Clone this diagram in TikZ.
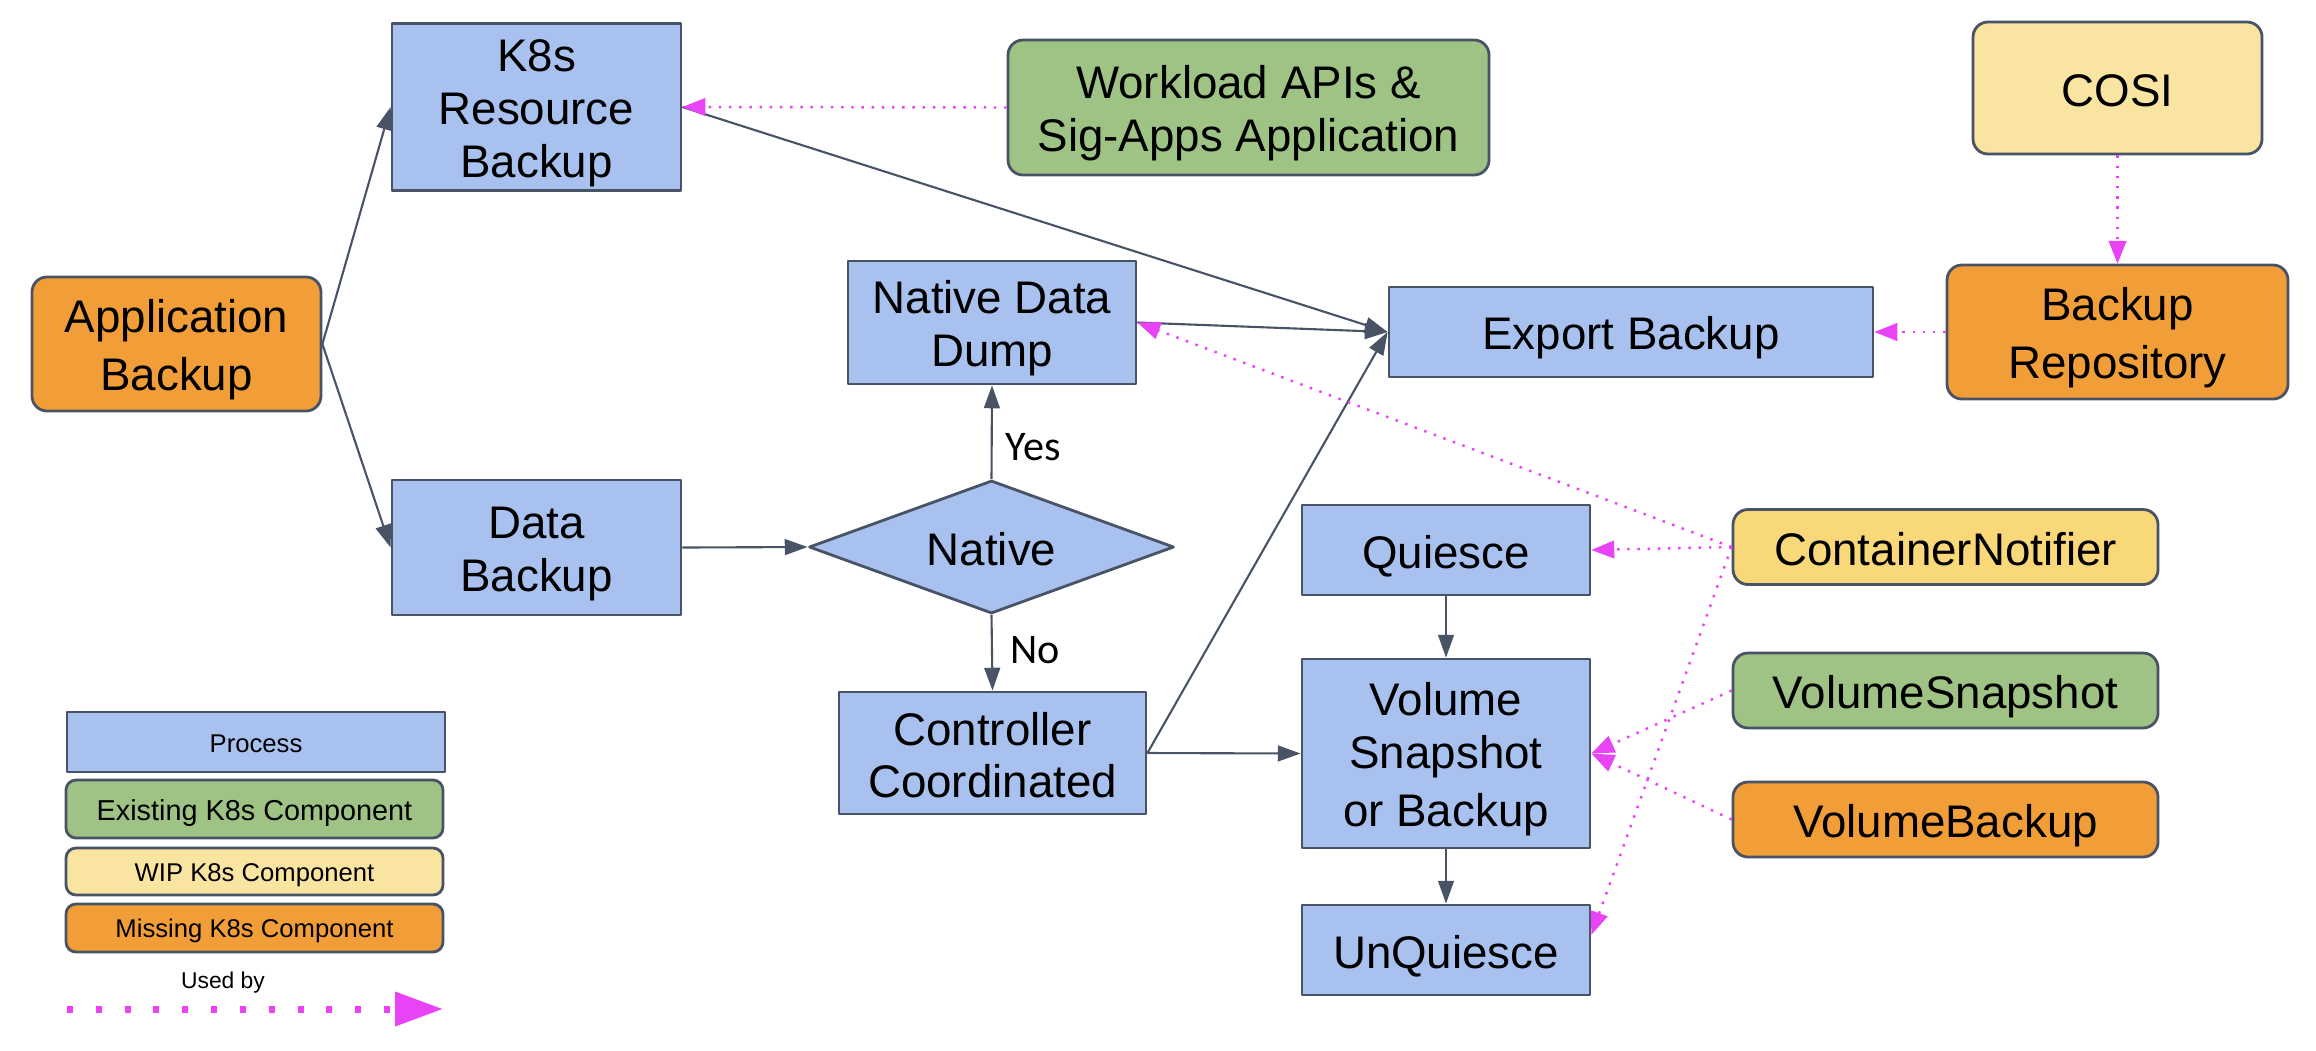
\documentclass[tikz,border=0pt]{standalone}
\usepackage{fontspec}
\setmainfont{Liberation Sans}
\newfontfamily\yesnofont{Carlito}
\usetikzlibrary{arrows.meta,shapes.geometric}
\newcommand\rowfix{\vrule width 0pt height 0.98em depth 0.17em}
\definecolor{proc_blue}{RGB}{168,193,239}
\definecolor{exist_green}{RGB}{159,195,133}
\definecolor{wip_yellow}{RGB}{249,228,161}
\definecolor{wip_gold}{RGB}{249,216,122}
\definecolor{miss_orange}{RGB}{242,158,56}
\definecolor{edge_slate}{RGB}{72,84,102}
\definecolor{used_pink}{RGB}{232,67,245}

\begin{document}
\begin{tikzpicture}[line join=round]
    \tikzstyle{box}=[draw=edge_slate, line width=0.8pt, rectangle, inner sep=1pt, align=center, text=black, font=\fontsize{13}{15}\selectfont,
      execute at begin node={\rowfix}]
    \tikzstyle{proc}=[style=box, fill=proc_blue]
    \tikzstyle{exist}=[style=box, rounded corners=0.15cm, fill=exist_green]
    \tikzstyle{wip}=[style=box, rounded corners=0.15cm, fill=wip_yellow]
    \tikzstyle{wipg}=[style=box, rounded corners=0.15cm, fill=wip_gold]
    \tikzstyle{miss}=[style=box, rounded corners=0.15cm, fill=miss_orange]
    \tikzstyle{decide}=[style=box, diamond, aspect=2.7, inner sep=0pt, fill=proc_blue]
    \tikzstyle{leg}=[rounded corners=0.1cm, font=\fontsize{7.3}{9}\selectfont]
    \tikzstyle{flow}=[draw=edge_slate, line width=0.6pt, -{Triangle[length=6.5pt,width=4.5pt]}]
    \tikzstyle{usedby}=[draw=used_pink, line width=0.7pt, dash pattern=on 0.7pt off 2.2pt, -{Triangle[length=6.5pt,width=5pt]}]
    \tikzstyle{yesno}=[font=\yesnofont\fontsize{12}{14}\selectfont, inner sep=0pt]

    \useasboundingbox (0,0) rectangle (23.16,-10.5);

    \node[miss] (app) at (1.765,-3.44) [minimum width=2.89cm, minimum height=1.34cm] {\rowfix Application\\\rowfix Backup};
    \node[proc] (k8s) at (5.365,-1.07) [minimum width=2.89cm, minimum height=1.64cm] {\rowfix K8s\\\rowfix Resource\\\rowfix Backup};
    \node[proc] (data) at (5.365,-5.475) [minimum width=2.89cm, minimum height=1.35cm] {\rowfix Data\\\rowfix Backup};
    \node[proc] (dump) at (9.92,-3.225) [minimum width=2.88cm, minimum height=1.23cm] {\rowfix Native Data\\\rowfix Dump};
    \node[decide] (native) at (9.915,-5.47) [minimum width=3.65cm, minimum height=1.33cm] {Native};
    \node[proc] (ctrl) at (9.925,-7.53) [minimum width=3.07cm, minimum height=1.22cm] {\rowfix Controller\\\rowfix Coordinated};
    \node[exist] (workload) at (12.485,-1.075) [minimum width=4.81cm, minimum height=1.35cm] {\rowfix Workload APIs \&\\\rowfix Sig-Apps Application};
    \node[wip] (cosi) at (21.175,-0.88) [minimum width=2.89cm, minimum height=1.32cm] {COSI};
    \node[miss] (repo) at (21.175,-3.32) [minimum width=3.41cm, minimum height=1.34cm] {\rowfix Backup\\\rowfix Repository};
    \node[proc] (export) at (16.31,-3.32) [minimum width=4.84cm, minimum height=0.90cm] {Export Backup};
    \node[proc] (quiesce) at (14.46,-5.50) [minimum width=2.88cm, minimum height=0.90cm] {Quiesce};
    \node[wipg] (notifier) at (19.455,-5.47) [minimum width=4.25cm, minimum height=0.75cm] {ContainerNotifier};
    \node[proc] (volume) at (14.46,-7.535) [minimum width=2.88cm, minimum height=1.89cm] {\rowfix Volume\\\rowfix Snapshot\\\rowfix or Backup};
    \node[exist] (vsnap) at (19.455,-6.905) [minimum width=4.25cm, minimum height=0.75cm] {VolumeSnapshot};
    \node[miss] (vbackup) at (19.455,-8.195) [minimum width=4.25cm, minimum height=0.75cm] {VolumeBackup};
    \node[proc] (unq) at (14.46,-9.50) [minimum width=2.88cm, minimum height=0.90cm] {UnQuiesce};
    \node[yesno] (yes) at (10.33,-4.47) {Yes};
    \node[yesno] (no) at (10.35,-6.50) {No};

    \node[proc, leg] (lproc) at (2.56,-7.42) [minimum width=3.78cm, minimum height=0.60cm, rounded corners=0pt] {Process};
    \node[exist, leg] (lexist) at (2.545,-8.09) [minimum width=3.77cm, minimum height=0.58cm, font=\fontsize{8.2}{10}\selectfont] {Existing K8s Component};
    \node[wip, leg] (lwip) at (2.545,-8.715) [minimum width=3.77cm, minimum height=0.47cm] {WIP K8s Component};
    \node[miss, leg] (lmiss) at (2.545,-9.28) [minimum width=3.77cm, minimum height=0.48cm] {Missing K8s Component};
    \node[font=\fontsize{6.5}{8}\selectfont] (lused) at (2.23,-9.83) {Used by};
    \coordinate (lstart) at (0.67,-10.09);
    \coordinate (lend) at (4.43,-10.09);

    \path
     (app.east) edge[flow] (k8s.west)
     (app.east) edge[flow] (data.west)
     (k8s.east) edge[flow] (export.west)
     (dump.east) edge[flow] (export.west)
     (ctrl.east) edge[flow] (export.west)
     (data.east) edge[flow] (native.west)
     (native.north) edge[flow] (dump.south)
     (native.south) edge[flow] (ctrl.north)
     (ctrl.east) edge[flow] (volume.west)
     (quiesce.south) edge[flow] (volume.north)
     (volume.south) edge[flow] (unq.north)
     ;
    \path
     (workload.west) edge[usedby] (k8s.east)
     (cosi.south) edge[usedby] (repo.north)
     (repo.west) edge[usedby] (export.east)
     (notifier.west) edge[usedby] (quiesce.east)
     (notifier.west) edge[usedby] (dump.east)
     (notifier.west) edge[usedby] (unq.6)
     (vsnap.west) edge[usedby] (volume.east)
     (vbackup.west) edge[usedby] (volume.east)
     (lstart) edge[usedby, line width=2pt, dash pattern=on 1.7pt off 6.5pt, -{Triangle[length=0.48cm,width=0.33cm]}] (lend)
     ;
\end{tikzpicture}
\end{document}
